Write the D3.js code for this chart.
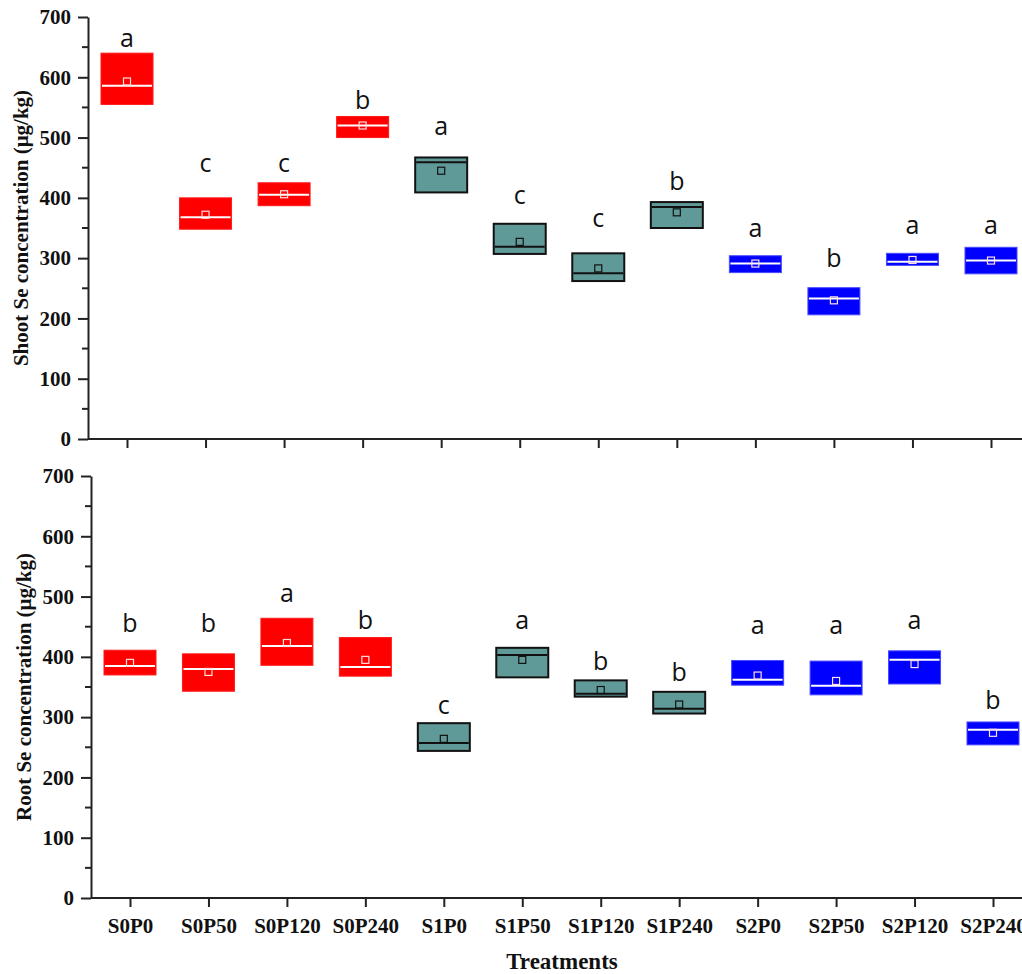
<!DOCTYPE html>
<html>
<head>
<meta charset="utf-8">
<script src="https://cdn.jsdelivr.net/npm/d3@7"></script>
<style>
  body { margin: 0; background: #fff; }
  .tick text { font-family: "Liberation Serif", "Times New Roman", serif; font-weight: bold; }
</style>
</head>
<body>
<div id="chart"></div>
<script>
const categories = ['S0P0','S0P50','S0P120','S0P240','S1P0','S1P50','S1P120','S1P240','S2P0','S2P50','S2P120','S2P240'];
const groups = ['S0','S0','S0','S0','S1','S1','S1','S1','S2','S2','S2','S2'];

// shoot panel
const shootQ1     = [555, 348, 387, 500, 409, 307, 262, 350, 276, 206, 288, 274];
const shootMedian = [586, 368, 405, 520, 459, 319, 275, 385, 291, 233, 294, 296];
const shootQ3     = [640, 400, 425, 535, 467, 357, 308, 393, 304, 251, 308, 318];
const shootMean   = [593, 372, 406, 520, 445, 327, 283, 376, 291, 230, 297, 296];
const shootLetters = ['a','c','c','b','a','c','c','b','a','b','a','a'];
const shootLetterY = [665, 458, 458, 562, 519, 405, 367, 428, 350, 300, 355, 355];

// root panel
const rootQ1     = [370, 343, 386, 368, 244, 366, 334, 306, 353, 337, 355, 254];
const rootMedian = [385, 380, 418, 383, 257, 403, 339, 314, 362, 352, 395, 279];
const rootQ3     = [411, 405, 464, 432, 290, 415, 361, 342, 394, 393, 410, 292];
const rootMean   = [390, 375, 423, 395, 264, 395, 345, 321, 369, 360, 388, 274];
const rootLetters = ['b','b','a','b','c','a','b','b','a','a','a','b'];
const rootLetterY = [456, 456, 506, 461, 320, 461, 392, 375, 453, 453, 461, 328];

const yTicks = [0, 100, 200, 300, 400, 500, 600, 700];

const W = 1022, H = 974;
const BOX_W = 52;

const fillColor = {S0: '#ff0000', S1: '#5f9a98', S2: '#0000ff'};
const strokeColor = {S0: '#ff1a1a', S1: '#111111', S2: '#4a4aff'};
const lineColor = {S0: '#ffffff', S1: '#111111', S2: '#ffffff'};

const svg = d3.select('#chart').append('svg')
    .attr('width', W)
    .attr('height', H);

function drawPanel(opt) {
    const x = d3.scalePoint()
        .domain(categories)
        .range(opt.xRange);
    const y = d3.scaleLinear()
        .domain([0, 700])
        .range([opt.yBottom, opt.yTop]);

    const g = svg.append('g');

    // minor ticks
    const minor = d3.range(50, 700, 100);
    g.selectAll('.minor').data(minor).enter().append('line')
        .attr('x1', opt.axisX - 6).attr('x2', opt.axisX)
        .attr('y1', d => y(d)).attr('y2', d => y(d))
        .attr('stroke', '#222').attr('stroke-width', 2);

    const yAxis = g.append('g')
        .attr('transform', `translate(${opt.axisX},0)`)
        .call(d3.axisLeft(y).tickValues(yTicks).tickSize(10).tickSizeOuter(0).tickPadding(7));
    yAxis.selectAll('text').attr('font-size', '21px');

    const xAxis = g.append('g')
        .attr('transform', `translate(0,${opt.yBottom})`)
        .call(d3.axisBottom(x).tickSize(9).tickSizeOuter(0).tickPadding(11));
    xAxis.select('.domain').attr('d', `M${opt.axisX},0H${W}`);
    if (!opt.showLabels) xAxis.selectAll('text').remove();
    else xAxis.selectAll('text').attr('font-size', '21px');

    [yAxis, xAxis].forEach(a => {
        a.select('.domain').attr('stroke', '#222').attr('stroke-width', 2);
        a.selectAll('.tick line').attr('stroke', '#222').attr('stroke-width', 2);
        a.selectAll('text').attr('fill', '#111');
    });

    const data = categories.map((c, i) => ({
        cat: c, grp: groups[i],
        q1: opt.q1[i], med: opt.med[i], q3: opt.q3[i], mean: opt.mean[i],
        letter: opt.letters[i], ly: opt.letterY[i]
    }));

    const box = g.selectAll('.box').data(data).enter().append('g')
        .attr('class', 'box');

    box.append('rect')
        .attr('x', d => x(d.cat) - BOX_W / 2)
        .attr('y', d => y(d.q3))
        .attr('width', BOX_W)
        .attr('height', d => y(d.q1) - y(d.q3))
        .attr('fill', d => fillColor[d.grp])
        .attr('stroke', d => strokeColor[d.grp])
        .attr('stroke-width', d => d.grp === 'S1' ? 2 : 1);

    box.append('line')
        .attr('x1', d => x(d.cat) - BOX_W / 2 + 1)
        .attr('x2', d => x(d.cat) + BOX_W / 2 - 1)
        .attr('y1', d => y(d.med))
        .attr('y2', d => y(d.med))
        .attr('stroke', d => lineColor[d.grp])
        .attr('stroke-width', 2);

    box.append('rect')
        .attr('x', d => x(d.cat) - 3.5)
        .attr('y', d => y(d.mean) - 3.5)
        .attr('width', 7)
        .attr('height', 7)
        .attr('fill', 'none')
        .attr('stroke', d => d.grp === 'S1' ? '#111' : '#ffdede')
        .attr('stroke-width', 1.2);

    box.append('text')
        .attr('x', d => x(d.cat))
        .attr('y', d => y(d.ly))
        .attr('dy', '0.35em')
        .attr('text-anchor', 'middle')
        .attr('font-family', '"Open Sans", Calibri, sans-serif')
        .attr('font-size', '25px')
        .attr('fill', '#111')
        .text(d => d.letter);

    g.append('text')
        .attr('transform', `translate(${opt.titleX},${(opt.yTop + opt.yBottom) / 2}) rotate(-90)`)
        .attr('text-anchor', 'middle')
        .attr('font-family', '"Liberation Serif", "Times New Roman", serif')
        .attr('font-weight', 'bold')
        .attr('font-size', '21px')
        .attr('fill', '#111')
        .text(opt.title);
}

drawPanel({
    axisX: 88, yTop: 17, yBottom: 439, xRange: [127, 991], titleX: 28,
    q1: shootQ1, med: shootMedian, q3: shootQ3, mean: shootMean,
    letters: shootLetters, letterY: shootLetterY,
    title: 'Shoot Se concentration (μg/kg)', showLabels: false
});

drawPanel({
    axisX: 91, yTop: 476, yBottom: 898, xRange: [130, 993], titleX: 31,
    q1: rootQ1, med: rootMedian, q3: rootQ3, mean: rootMean,
    letters: rootLetters, letterY: rootLetterY,
    title: 'Root Se concentration (μg/kg)', showLabels: true
});

svg.append('text')
    .attr('x', 562)
    .attr('y', 969)
    .attr('text-anchor', 'middle')
    .attr('font-family', '"Liberation Serif", "Times New Roman", serif')
    .attr('font-weight', 'bold')
    .attr('font-size', '23px')
    .attr('fill', '#111')
    .text('Treatments');
</script>
</body>
</html>
